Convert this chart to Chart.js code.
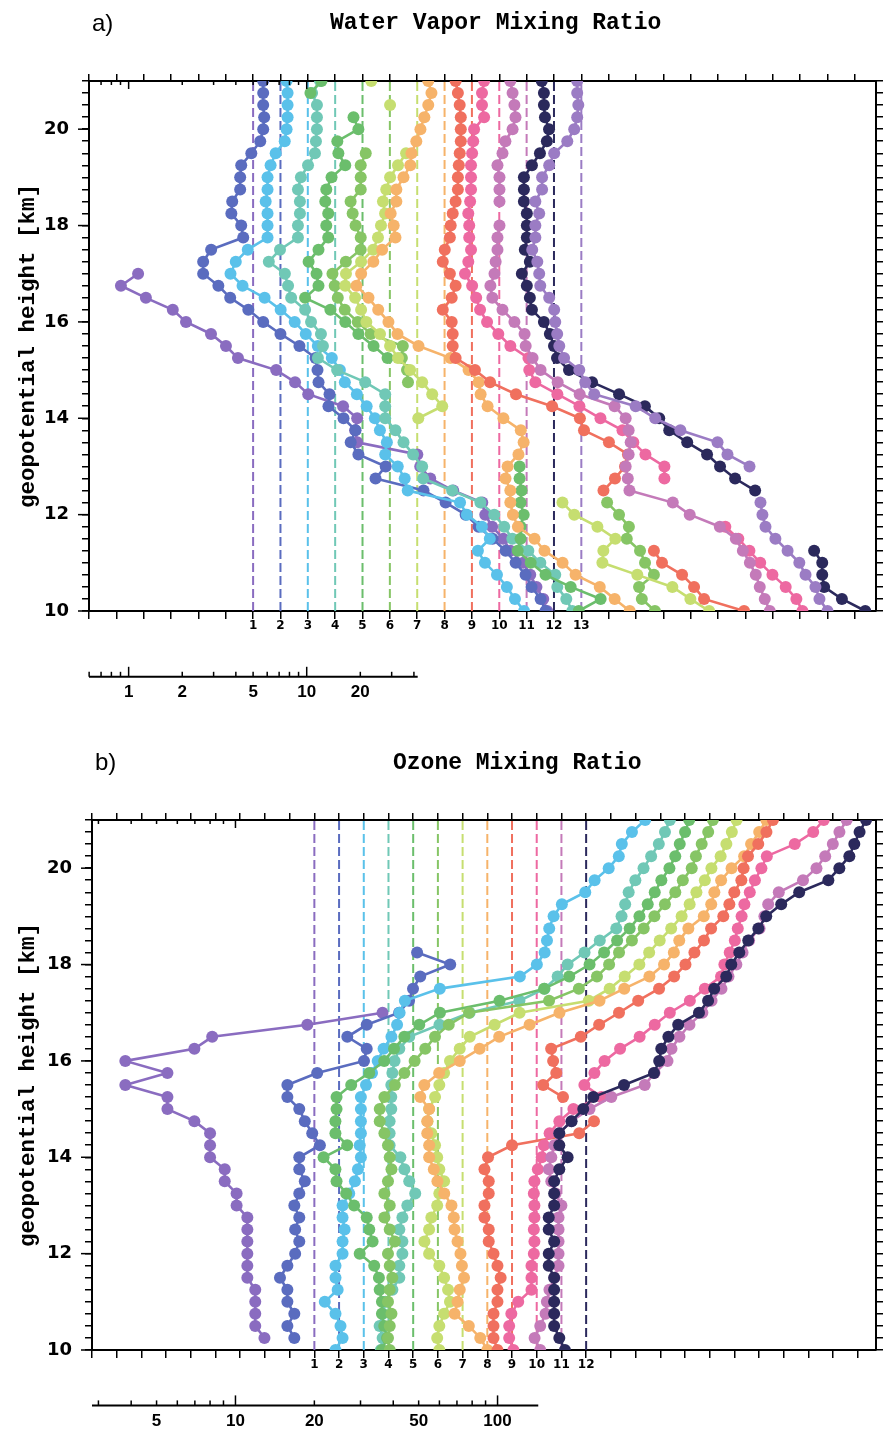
<!DOCTYPE html>
<html>
<head>
<meta charset="utf-8">
<title>Water vapor and ozone profiles</title>
<script src="https://cdn.jsdelivr.net/npm/chart.js@4.4.1/dist/chart.umd.min.js"></script>
<style>
  html, body { margin: 0; padding: 0; background: #fff; }
  #page { position: relative; width: 884px; height: 1433px; overflow: hidden; }
  canvas { position: absolute; left: 0; }
  .lbl { position: absolute; margin: 0; color: #000; white-space: nowrap; line-height: 1; }
  .tag { font: 24px "Liberation Sans", Arial, sans-serif; }
  .ttl { font: bold 23px "Liberation Mono", monospace; }
</style>
</head>
<body>
<div id="page">
  <canvas id="wvChart" width="884" height="716" style="top:0"></canvas>
  <canvas id="o3Chart" width="884" height="717" style="top:716px"></canvas>
  <div class="lbl tag" style="left:92px;top:9px">a)</div>
  <div class="lbl ttl" style="left:330px;top:10px">Water Vapor Mixing Ratio</div>
  <div class="lbl tag" style="left:95px;top:748px">b)</div>
  <div class="lbl ttl" style="left:393px;top:750px">Ozone Mixing Ratio</div>
</div>
<script>
// sounding levels, km (top to bottom)
const heights = [21, 20.75, 20.5, 20.25, 20, 19.75, 19.5, 19.25, 19, 18.75, 18.5, 18.25, 18, 17.75, 17.5,
  17.25, 17, 16.75, 16.5, 16.25, 16, 15.75, 15.5, 15.25, 15, 14.75, 14.5, 14.25, 14, 13.75,
  13.5, 13.25, 13, 12.75, 12.5, 12.25, 12, 11.75, 11.5, 11.25, 11, 10.75, 10.5, 10.25, 10];

// water vapour mixing ratio per launch, ppmv
const wv1 = [null, null, null, null, null, null, null, null, null, null, null, null, null, null, null, null,
  1.13, 0.905, 1.25, 1.77, 2.10, 2.90, 3.52, 4.11, 6.74, 8.6, 10.2, 16.0, 19.2, 18.7,
  19.2, 41.8, 43.4, 49.4, 66.5, 96.8, 100.6, 110, 127, 139, 164.5, 180, 195, 213, 224];
const wv2 = [4.0, 4.0, 4.0, 4.05, 4.0, 3.85, 3.43, 3.01, 2.97, 2.97, 2.68, 2.65, 3.01, 3.09, 2.04,
  1.84, 1.84, 2.24, 2.61, 3.30, 4.0, 5.0, 6.39, 7.87, 8.07, 8.18, 9.43, 9.3, 11.3, 13.2,
  12.4, 13.7, 19.5, 17.1, 31.8, 42.3, 54.8, 64.8, 77.7, 91.9, 104.6, 119, 128.6, 144.5, 154];
const wv3 = [3.80, 3.85, 3.85, 3.85, 3.80, 3.71, 3.30, 3.09, 2.97, 2.97, 2.90, 2.97, 2.97, 2.97, 2.30,
  1.97, 1.84, 2.15, 2.86, 3.52, 4.22, 4.87, 5.69, 6.82, 7.57, 8.07, 9.43, 10.7, 11.9, 12.7,
  13.9, 13.6, 16.0, 17.5, 18.2, 35.8, 39.1, 47.5, 52.6, 45.1, 49.4, 57.7, 65.6, 72.8, 81.9];
const wv4 = [4.11, 3.71, 3.95, 3.95, 3.95, 3.90, 3.85, 3.52, 3.21, 3.09, 3.17, 3.17, 3.09, 3.09, 2.45,
  2.12, 2.61, 2.72, 2.83, 3.39, 3.66, 4.16, 4.27, 4.0, 5.13, 7.37, 9.55, 9.55, 9.55, 10.9,
  12.1, 13.7, 15.4, 15.6, 22.7, 32.7, 39.1, 44.5, 49.4, 60.8, 71.0, 86.1, 88.4, 99.3, 107.3];
const wv5 = [2.94, 2.55, null, 4.45, 4.74, 3.61, 3.66, 4.0, 3.35, 3.13, 3.09, 3.21, 3.13, 3.21, 2.83,
  2.49, 2.76, 2.83, 2.38, 3.30, 4.0, 4.74, 5.77, 6.91, null, null, null, null, null, null,
  null, null, 38.1, 38.1, 39.1, 38.6, 40.2, 38.6, 38.6, 37.2, 44.0, 53.3, 73.8, 108.7, 81.9];
const wv6 = [null, null, null, null, null, null, 3.66, 3.43, 3.43, 3.43, 3.01, 3.09, 3.21, 3.43, 3.43,
  2.83, 2.38, 2.45, 2.55, 2.79, 3.30, 3.90, 5.91, 5.84, 6.24, 6.32, null, null, null, null,
  null, null, null, null, null, 83, 96.8, 110, 107, 127, 135.5, 152, 125.4, 130, 154];
const wv7 = [2.76, null, 3.52, null, null, null, 4.33, 3.90, 3.52, 3.35, 3.21, 3.30, 3.13, 3.01, 2.83,
  2.42, 1.99, 1.97, 2.24, 2.42, 2.59, 3.09, 3.52, 3.90, 4.56, 5.33, 6.07, 6.91, 5.07, null,
  null, null, null, null, null, 32.7, 38.1, 51.4, 64.8, 55.5, 54.8, 86.1, 135.5, 171, 218];
const wv8 = [4.05, 4.22, 4.05, 3.85, 3.66, 3.47, 3.26, 3.21, 2.94, 2.68, 2.68, 2.49, 2.59, 2.65, 2.23,
  1.99, 1.70, 1.60, 1.87, 2.12, 2.42, 2.72, 3.57, 5.40, 6.82, 7.77, 7.97, 8.72, 10.7, 13.4,
  13.9, 13.0, 11.3, 11.0, 11.7, 11.7, 12.1, 12.9, 16.0, 18.2, 23.0, 27.2, 37.2, 45.1, 54.8];
const wv9 = [4.05, 4.17, 4.27, 4.33, 4.33, 4.33, 4.27, 4.22, 4.17, 4.17, 4.05, 3.90, 3.80, 3.76, 3.52,
  3.43, 3.76, 4.05, 3.85, 3.43, 3.85, 3.90, 3.90, 4.05, 5.20, 6.32, 8.84, 14.1, 20.2, 21.3,
  29.4, 37.6, 36.2, 31.8, 27.4, null, null, null, null, 52.6, 58.4, 75.7, 88.4, 100.6, 168.8];
const wv10 = [4.11, 4.0, 4.0, 4.11, 3.61, 3.57, 3.52, 3.47, 3.47, 3.47, 3.43, 3.35, 3.39, 3.39, 3.47,
  3.35, 3.21, 3.52, 3.71, 3.90, 4.27, 4.94, 5.77, 7.29, 7.37, 7.97, 10.6, 14.1, 18.5, 24.6,
  28.3, 33.1, 42.3, 42.3, null, null, null, 93, 110, 127, 146, 171, 203, 233, 252];
const wv11 = [4.05, 4.17, 4.27, 4.33, 4.17, 3.80, 3.66, 3.43, 3.52, 3.52, 3.52, null, 3.52, 3.43, 3.43,
  3.35, 3.30, 3.13, 3.21, 3.66, 4.27, 4.87, 4.94, 5.40, 5.99, 7.47, 9.93, 15.6, 18.0, 18.7,
  19.2, 18.7, 18.0, 18.5, 18.9, 33.1, 41.2, 60.8, 74.8, 81.9, 89.7, 96.8, 101.9, 108.7, 116];
const wv12 = [4.27, 4.39, 4.39, 4.45, 4.69, 4.56, 4.17, 3.76, 3.39, 3.39, 3.39, 3.52, 3.52, 3.52, 3.43,
  3.66, 3.30, 3.52, 3.66, 3.76, 4.39, 4.74, 5.0, 5.20, 6.07, 8.18, 11.6, 16.2, 19.5, 22.2,
  28.0, 36.2, 42.8, 52.0, 67.4, null, null, null, null, 144.5, 160.5, 160.5, 164.5, 207, 280];
const wv13 = [4.74, 4.74, 4.81, 4.74, 4.56, 4.17, 3.52, 3.30, 3.01, 3.01, 2.76, 2.90, 2.76, 2.76, 2.65,
  2.83, 2.90, 2.94, 3.30, 3.52, 3.57, 3.66, 3.76, 4.0, 4.87, 5.26, 5.91, 10.1, 13.0, 18.0,
  29.1, 33.1, 44.0, null, null, 50.7, 52.0, 54.1, 61.5, 72.0, 83.8, 90.8, 103.2, 108.7, 120.6];

// ozone mixing ratio per launch, ppbv
const o3_1 = [null, null, null, null, null, null, null, null, null, null, null, null, null, null, null, null,
  36.4, 18.8, 8.15, 6.97, 3.80, 5.5, 3.80, 5.5, 5.5, 6.97, 8.0, 8.0, 8.0, 9.1,
  9.1, 10.1, 10.1, 11.1, 11.1, 11.1, 11.1, 11.1, 11.1, 11.9, 11.9, 11.9, 11.9, 12.9, null];
const o3_2 = [null, null, null, null, null, null, null, null, null, null, null, 39.7, 53.1, 40.8, 38.3,
  37.0, 33.9, 25.5, 21.5, 25.5, 24.9, 16.5, 12.7, 12.7, 14.1, 14.8, 15.8, 16.9, 14.1, 14.1,
  14.8, 14.1, 13.5, 14.1, 13.6, 14.1, 13.6, 12.7, 11.9, 12.7, 12.7, 13.5, 12.7, 13.5, null];
const o3_3 = [237, 211, 193, 188, 172, 152, 140, 114, 106, 102, 100, 98, 91.5, 78.8, 39.0,
  28.7, 27.4, 26.8, 25.5, 23.8, 22.6, 21.5, 20.4, 19.5, 19.5, 19.5, 19.5, 19.3, 19.5, 19.0,
  18.5, 17.6, 16.6, 16.6, 16.9, 16.6, 16.6, 15.6, 15.6, 15.9, 14.2, 15.6, 16.3, 16.6, 15.6];
const o3_4 = [237, 227, 215, 201, 188, 175, 165, 160, 155, 148, 128, 112, 96.5, 88.4, 78.8,
  63.2, 40.8, 31.3, 24.0, 22.0, 21.1, 20.7, 20.5, 20.5, 20.5, 20.2, 20.2, 20.2, 22.2, 23.0,
  24.0, 25.3, 23.6, 22.6, 22.0, 22.6, 22.6, 22.0, 22.0, 20.7, 19.5, 19.0, 18.5, 19.0, 18.7];
const o3_5 = [226, 218, 208, 200, 190, 177, 167, 157, 146, 134, 120, 107, 94.2, 78.8, 63.2,
  42.7, 25.3, 21.1, 18.5, 16.9, 15.5, 13.6, 11.6, 10.2, 10.2, 10.1, 10.1, 11.2, 9.1, 10.1,
  10.2, 11.1, 11.9, 13.3, 13.6, 14.0, 12.5, 14.2, 14.8, 14.9, 15.2, 15.2, 15.5, 15.9, 15.2];
const o3_6 = [224, 215, 203, 193, 186, 172, 161, 147, 134, 122, 110, 98.2, 90, 80.9, 69.0,
  53.1, 26.3, 22.0, 19.5, 17.9, 16.3, 14.9, 13.7, 12.5, 12.0, 12.0, 12.5, 12.9, 13.1, 13.3,
  12.9, 12.5, 13.1, 12.5, 13.1, 13.7, 12.9, 13.1, 13.4, 13.1, 12.9, 13.3, 13.1, 12.9, 13.1];
const o3_7 = [222, 213, 203, 193, 178, 168, 156, 147, 137, 125, 113, 103, 94.5, 83.1, 72.8,
  60.6, 33.0, 26.5, 21.3, 19.5, 17.9, 17.0, 16.3, 15.7, 14.9, 14.7, 15.2, 15.7, 16.0, 16.3,
  17.0, 16.3, 16.0, 15.2, 14.9, 14.3, 14.9, 16.3, 17.0, 17.6, 17.9, 17.0, 16.3, 16.0, 16.3];
const o3_8 = [232, 218, 203, 191, 171, 156, 147, 143, 134, 117, 108, 103, 94.5, 83.1, 66.6,
  53.6, 37.7, 29.0, 22.2, 18.7, 15.7, 13.1, 11.5, 11.1, 12.0, 11.8, 11.8, 12.0, 12.0, 12.5,
  12.9, 13.7, 14.6, 14.9, 15.0, 15.4, 15.8, 16.0, 16.3, 15.7, 15.4, 15.0, 17.0, 18.8, 20.0];
const o3_9 = [198, 187, 174, 159, 153, 150, 141, 135, 128, 115, 108, 99.3, 91.8, 83.1, 72.8,
  60.6, 51.2, 43.0, 36.6, 28.2, 28.7, 29.5, 26.3, 31.3, null, 41.1, 36.1, 20.0, 16.2, 15.7,
  16.3, 16.3, 15.7, 15.7, 16.3, 16.3, 17.0, 17.6, 18.1, 17.6, 17.6, 17.0, 17.0, 17.0, 17.6];
const o3_10 = [249, 227, 193, 151, 144, 136, 130, 124, 121, 117, 114, 109, 104, 101, 87.6,
  76.8, 64.4, 56.4, 49.4, 41.6, 36.3, 33.2, 30.4, 35.3, 27.6, 24.4, 22.4, 21.3, 20.9, 20.2,
  19.6, 19.5, 19.6, 19.6, 19.5, 19.6, 19.5, 19.1, 19.1, 19.1, 17.0, 16.0, 15.7, 15.7, 16.3];
const o3_11 = [245, 230, 217, 203, 188, 167, 135, 123, 119, 114, 104, 98.2, 93, 86.8, 81.6,
  74.8, 69, 61.6, 56.4, 52.6, 50.8, 45.3, 41.6, 31.0, 25.6, 21.8, 19.6, 18.8, 18.3, 17.9,
  18.3, 19.0, 20.0, 19.5, 19.5, 19.5, 19.5, 19.5, 18.8, 18.0, 17.6, 17.4, 16.6, 15.8, 16.6];
const o3_12 = [234, 221, 211, 202, 185, 168, 130, 111, 97.3, 90.8, 83.1, 76.8, 71.6, 68.5, 61.6,
  58.4, 53.9, 44.9, 41.2, 38.7, 38.0, 36.3, 27.9, 21.3, 19.5, 17.6, 15.8, 15.8, 17.0, 15.8,
  15.1, 15.1, 15.1, 14.4, 14.4, 15.1, 14.4, 14.4, 15.1, 15.1, 15.1, 15.1, 15.1, 15.8, 16.6];

const launchColors = ['#8a6cc0', '#5a6cbf', '#5ac1ea', '#70c8b6', '#6bbe6c', '#86c565', '#c6de70',
  '#f6b36a', '#f0705e', '#ed69a1', '#c47ab9', '#2b295c', '#9b7cc4'];

// reference scale under each panel
const wvScaleTicks = [0.6, 0.7, 0.8, 0.9, 1, 2, 3, 4, 5, 6, 7, 8, 9, 10, 20, 30, 40];
const wvScaleLabels = [1, 2, 5, 10, 20];
const o3ScaleTicks = [3, 4, 5, 6, 7, 8, 9, 10, 20, 30, 40, 50, 60, 70, 80, 90, 100];
const o3ScaleLabels = [5, 10, 20, 50, 100];

Chart.defaults.animation = false;
Chart.defaults.font.family = '"DejaVu Sans", sans-serif';
Chart.defaults.color = '#000';

// reference rule with upward ticks on the xScale axis, small inward log ticks
// under the top frame, and longer ticks at even km
const scaleRule = {
  id: 'scaleRule',
  afterDraw(chart, args, opts) {
    const s = chart.scales.xScale;
    const area = chart.chartArea;
    const ctx = chart.ctx;
    const y = s.top + opts.offset;
    const tick = (x0, y0, x1, y1) => { ctx.beginPath(); ctx.moveTo(x0, y0); ctx.lineTo(x1, y1); ctx.stroke(); };
    ctx.save();
    ctx.strokeStyle = '#000';
    ctx.lineWidth = 2;
    tick(area.left, y, s.getPixelForValue(opts.end), y);
    ctx.lineWidth = 1.5;
    s.ticks.forEach(t => {
      const x = s.getPixelForValue(t.value);
      tick(x, y, x, y - (opts.major.includes(t.value) ? 10 : 5));
      if (t.value <= 10) {
        tick(x, area.top, x, area.top + (opts.major.includes(t.value) ? 8 : 4));
      }
    });
    const ys = chart.scales.y;
    ys.ticks.forEach(t => {
      if (t.value % 2 !== 0) return;
      const py = ys.getPixelForValue(t.value);
      tick(area.left - 11, py, area.left, py);
    });
    ctx.restore();
  }
};

function buildPanel(id, p) {
  const shift = k => Math.pow(10, p.step * k);
  const xMin = p.ref * shift(-p.before);
  const axisTicks = [];
  for (let j = -p.before; p.ref * shift(j) <= p.xMax; j++) axisTicks.push(p.ref * shift(j));

  const datasets = [];
  p.series.forEach((vals, k) => {
    const xRef = p.ref * shift(k);
    datasets.push({
      data: [{x: xRef, y: 10}, {x: xRef, y: 21}],
      showLine: true,
      borderColor: launchColors[k],
      borderWidth: 2,
      borderDash: [9, 4],
      pointRadius: 0,
      order: 200
    });
  });
  p.series.forEach((vals, k) => {
    datasets.push({
      label: 'launch ' + (k + 1),
      data: heights.map((h, i) => ({x: vals[i] == null ? null : vals[i] * shift(k), y: h})),
      showLine: true,
      spanGaps: false,
      borderColor: launchColors[k],
      backgroundColor: launchColors[k],
      pointBackgroundColor: launchColors[k],
      borderWidth: 2.6,
      pointRadius: 6,
      pointBorderWidth: 0,
      order: 100 - k
    });
  });

  const logAxis = {type: 'logarithmic', min: xMin, max: p.xMax};
  const heightTicks = s => { s.ticks = heights.slice().reverse().map(v => ({value: v})); };

  return new Chart(document.getElementById(id), {
    type: 'scatter',
    data: {datasets},
    plugins: [scaleRule],
    options: {
      responsive: false,
      layout: {padding: 0},
      plugins: {
        legend: {display: false},
        tooltip: {enabled: false},
        scaleRule: {offset: p.ruleOffset, end: p.scaleEnd, major: p.scaleMajor}
      },
      scales: {
        x: {
          ...logAxis,
          position: 'bottom',
          weight: 0,
          afterBuildTicks: s => { s.ticks = axisTicks.map(v => ({value: v})); },
          afterFit: s => { s.height = 40; },
          border: {color: '#000', width: 2},
          grid: {drawOnChartArea: false, color: '#000', lineWidth: 1.5, tickLength: 8},
          ticks: {
            autoSkip: false, maxRotation: 0, padding: 0,
            font: {size: 12, weight: 'bold'},
            callback: (v, i) => {
              const j = i - p.before;
              return j >= 0 && j < p.series.length ? String(j + 1) : '';
            }
          }
        },
        xTop: {
          ...logAxis,
          position: 'top',
          afterBuildTicks: s => { s.ticks = axisTicks.map(v => ({value: v})); },
          afterFit: s => { s.height = p.top; },
          border: {color: '#000', width: 2},
          grid: {drawOnChartArea: false, color: '#000', lineWidth: 1.5, tickLength: 7},
          ticks: {display: false}
        },
        xScale: {
          ...logAxis,
          position: 'bottom',
          weight: 1,
          afterBuildTicks: s => { s.ticks = p.scaleTicks.map(v => ({value: v})); },
          afterFit: s => { s.height = p.scaleHeight; },
          border: {display: false},
          grid: {display: false, drawTicks: false},
          ticks: {
            autoSkip: false, maxRotation: 0, padding: p.scalePad,
            font: {family: '"Liberation Sans", sans-serif', size: 17, weight: 'bold', lineHeight: 1.2},
            callback: v => p.scaleLabels.includes(v) ? String(v) : ''
          }
        },
        y: {
          type: 'linear',
          position: 'left',
          min: 10, max: 21,
          afterBuildTicks: heightTicks,
          afterFit: s => { s.width = p.left; },
          border: {color: '#000', width: 2},
          grid: {drawOnChartArea: false, color: '#000', lineWidth: 1.5, tickLength: 7},
          title: {
            display: true,
            text: 'geopotential height [km]',
            font: {family: '"Liberation Mono", monospace', size: 22.5, weight: 'bold', lineHeight: 1.2},
            padding: {top: 14.5, bottom: 0}
          },
          ticks: {
            autoSkip: false, padding: 13,
            font: {size: 18, weight: 'bold'},
            callback: v => (v % 2 === 0 && v <= 20) ? String(v) : ''
          }
        },
        yRight: {
          type: 'linear',
          position: 'right',
          min: 10, max: 21,
          afterBuildTicks: heightTicks,
          afterFit: s => { s.width = 8; },
          border: {color: '#000', width: 2},
          grid: {drawOnChartArea: false, color: '#000', lineWidth: 1.5, tickLength: 7},
          ticks: {display: false}
        }
      }
    }
  });
}

buildPanel('wvChart', {
  series: [wv1, wv2, wv3, wv4, wv5, wv6, wv7, wv8, wv9, wv10, wv11, wv12, wv13],
  ref: 5, step: 0.1536, before: 6, xMax: Math.pow(10, 4.197),
  top: 81, left: 89, scaleHeight: 65, scalePad: 30.8, ruleOffset: 25.8,
  scaleTicks: wvScaleTicks, scaleLabels: wvScaleLabels, scaleMajor: [1, 10], scaleEnd: 42
});

buildPanel('o3Chart', {
  series: [o3_1, o3_2, o3_3, o3_4, o3_5, o3_6, o3_7, o3_8, o3_9, o3_10, o3_11, o3_12],
  ref: 20, step: 0.09427, before: 9, xMax: Math.pow(10, 3.444),
  top: 104, left: 92, scaleHeight: 43, scalePad: 20.8, ruleOffset: 15.4,
  scaleTicks: o3ScaleTicks, scaleLabels: o3ScaleLabels, scaleMajor: [10, 100], scaleEnd: 143
});
</script>
</body>
</html>
